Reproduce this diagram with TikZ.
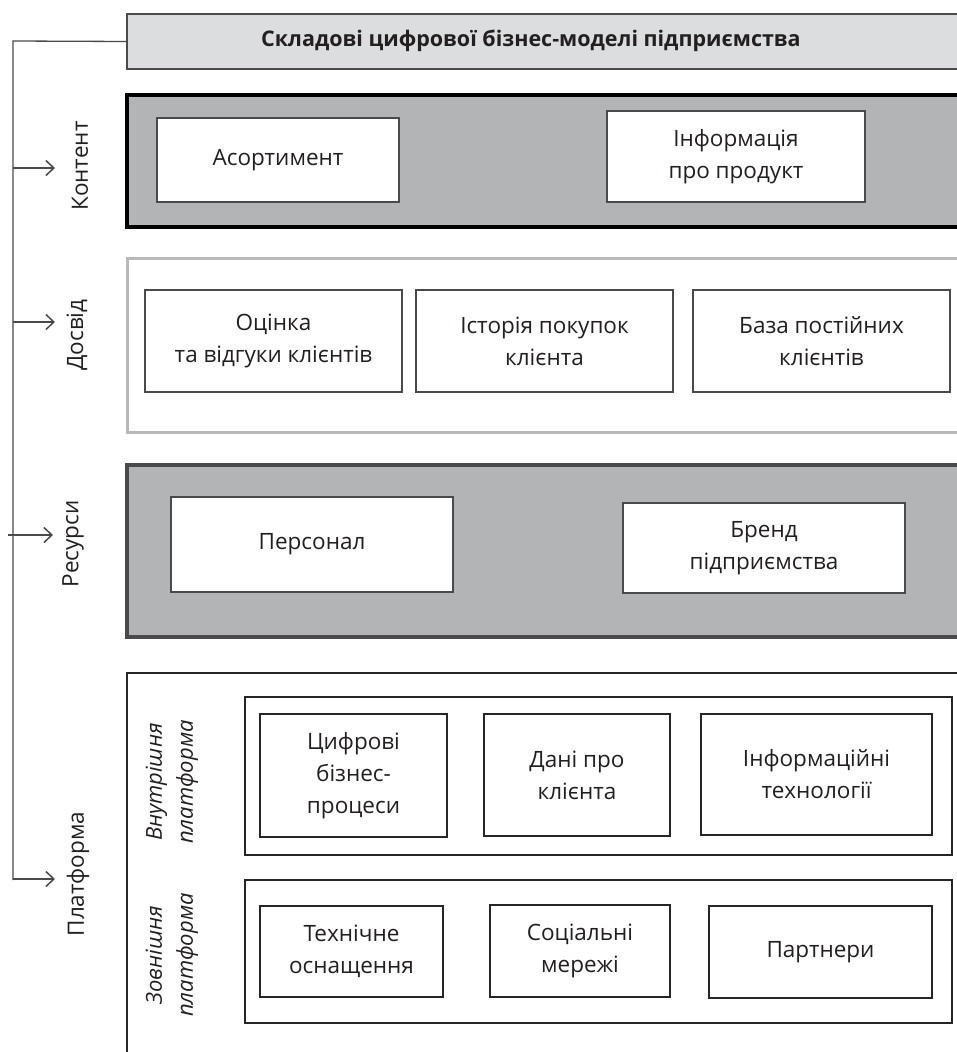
\documentclass[tikz,border=0pt]{standalone}
\usepackage{fontspec}
\setmainfont{Open Sans}
\usetikzlibrary{arrows.meta}
\definecolor{txt}{HTML}{231F20}
\definecolor{darkfill}{HTML}{B3B4B6}
\definecolor{lightfill}{HTML}{DCDDDF}
\definecolor{lightline}{HTML}{B8B9BB}
\definecolor{midline}{HTML}{4A4A4A}
\tikzset{
  every node/.style={inner sep=0pt, outer sep=0pt, text=txt, font=\fontsize{22.5}{32}\selectfont},
  nw/.style={anchor=north west},
  ibox/.style={draw=midline, line width=2pt, fill=white, align=center, nw},
  pbox/.style={draw=black!85, line width=2pt, fill=white, align=center, nw},
  side/.style={rotate=90, align=center},
  sidei/.style={rotate=90, align=center, font=\fontsize{22}{31}\selectfont\itshape},
  link/.style={draw=midline, line width=1.3pt},
  arr/.style={draw=midline, line width=2pt, -{Straight Barb[length=8pt, width=15pt, line width=1.5pt]}},
}
\begin{document}
\begin{tikzpicture}[x=1pt, y=-1pt]
\clip (0,0) rectangle (957,1052);
\fill[white] (0,0) rectangle (957,1052);

% title
\node[nw, draw=midline, line width=1.8pt, fill=lightfill, minimum width=850pt, minimum height=55pt] (title) at (127,14) {};
\node[font=\fontsize{21.5}{28}\selectfont\bfseries] (titletext) at (531,41) {Складові цифрової бізнес-моделі підприємства};

% Контент
\node[nw, draw=black, line width=3.5pt, fill=darkfill, minimum width=850pt, minimum height=132pt] (content) at (127,95) {};
\node[ibox, minimum width=242pt, minimum height=84pt] (asort) at (157,118) {Асортимент};
\node[ibox, minimum width=258pt, minimum height=91pt] (info) at (607,111) {Інформація\\про продукт};

% Досвід
\node[nw, draw=lightline, line width=3pt, fill=white, minimum width=850pt, minimum height=174pt] (exp) at (127,258) {};
\node[ibox, minimum width=257pt, minimum height=102pt] (rate) at (145,290) {Оцінка\\та відгуки клієнтів};
\node[ibox, minimum width=257pt, minimum height=102pt] (hist) at (416,290) {Історія покупок\\клієнта};
\node[ibox, minimum width=257pt, minimum height=102pt] (base) at (693,290) {База постійних\\клієнтів};

% Ресурси
\node[nw, draw=midline, line width=3.5pt, fill=darkfill, minimum width=850pt, minimum height=172pt] (res) at (127,465) {};
\node[ibox, minimum width=282pt, minimum height=95pt] (staff) at (171,497) {Персонал};
\node[ibox, minimum width=282pt, minimum height=90pt] (brand) at (623,503) {Бренд\\підприємства};

% Платформа
\node[nw, draw=black!85, line width=2pt, fill=white, minimum width=850pt, minimum height=400pt] (plat) at (127,673) {};
\node[pbox, minimum width=707pt, minimum height=158pt] (inner) at (245,697) {};
\node[pbox, minimum width=187pt, minimum height=123pt] (proc) at (260,714) {Цифрові\\бізнес-\\процеси};
\node[pbox, minimum width=186pt, minimum height=122pt] (cdata) at (484,714) {Дані про\\клієнта};
\node[pbox, minimum width=231pt, minimum height=121pt] (itech) at (701,714) {Інформаційні\\технології};
\node[pbox, minimum width=707pt, minimum height=143pt] (outer) at (245,880) {};
\node[pbox, minimum width=183pt, minimum height=91pt] (tech) at (260,906) {Технічне\\оснащення};
\node[pbox, minimum width=180pt, minimum height=92pt] (soc) at (490,905) {Соціальні\\мережі};
\node[pbox, minimum width=223pt, minimum height=92pt] (part) at (709,906) {Партнери};

\node[sidei] (innerlbl) at (172,782) {Внутрішня\\платформа};
\node[sidei] (outerlbl) at (172,955) {Зовнішня\\платформа};

% side labels
\node[side] (lcontent) at (80,166) {Контент};
\node[side] (lexp) at (77,335) {Досвід};
\node[side] (lres) at (73,544) {Ресурси};
\node[side] (lplat) at (78,874) {Платформа};

% connectors
\coordinate (top) at (13,41);
\coordinate (bot) at (13,880);
\draw[link] (title.west) -- (top) -- (bot);
\coordinate (s1) at (13,168);  \coordinate (e1) at (55,168);
\coordinate (s2) at (13,322);  \coordinate (e2) at (55,322);
\coordinate (s3) at (8,535);   \coordinate (e3) at (53,535);
\coordinate (s4) at (13,879);  \coordinate (e4) at (55,879);
\draw[arr] (s1) -- (e1);
\draw[arr] (s2) -- (e2);
\draw[arr] (s3) -- (e3);
\draw[arr] (s4) -- (e4);
\end{tikzpicture}
\end{document}
